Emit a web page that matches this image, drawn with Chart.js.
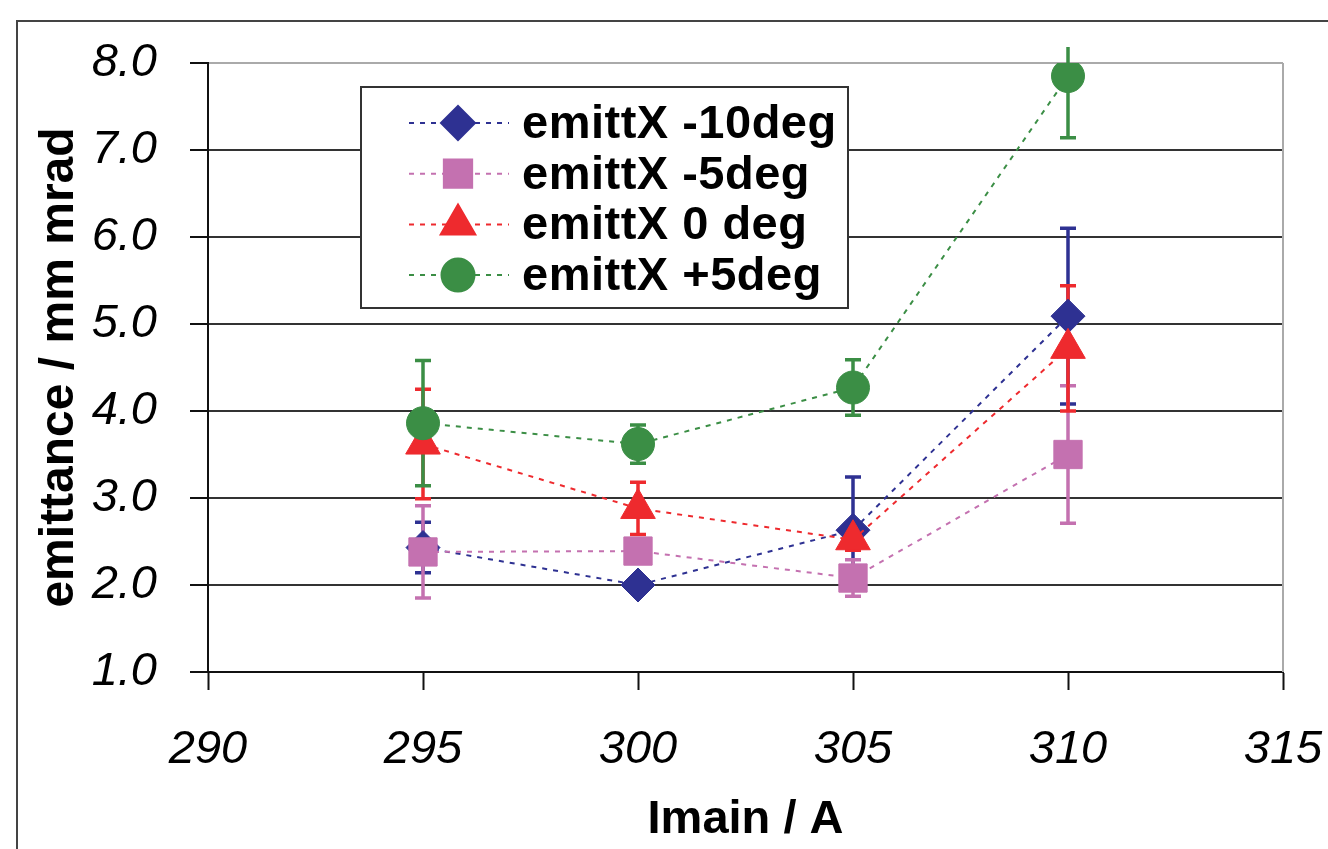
<!DOCTYPE html>
<html>
<head>
<meta charset="utf-8">
<script src="https://cdn.jsdelivr.net/npm/chart.js@4"></script>
<style>
  body { margin: 0; background: #fff; }
  #wrap { position: relative; width: 1328px; height: 849px; overflow: hidden; }
  #frame { position: absolute; left: 16px; top: 20px; width: 2000px; height: 2000px;
           border-left: 2px solid #444; border-top: 2px solid #444; }
  canvas { position: absolute; left: 0; top: 0; }
</style>
</head>
<body>
<div id="wrap">
  <div id="frame"></div>
  <canvas id="chart" width="1328" height="849"></canvas>
</div>
<script>
// Daten
const currents = [295, 300, 305, 310];
const seriesNames = ['emittX -10deg', 'emittX -5deg', 'emittX 0 deg', 'emittX +5deg'];

const emitMinus10 = [2.43, 2.00, 2.63, 5.09];
const emitMinus5  = [2.38, 2.39, 2.08, 3.50];
const emitZero    = [3.62, 2.88, 2.52, 4.72];
const emitPlus5   = [3.86, 3.62, 4.27, 7.85];

const errMinus10 = [0.29, 0.08, 0.61, 1.01];
const errMinus5  = [0.53, 0.10, 0.21, 0.79];
const errZero    = [0.63, 0.30, 0.12, 0.72];
const errPlus5   = [0.72, 0.22, 0.32, 0.71];

const xTicks = [290, 295, 300, 305, 310, 315];
const yTicks = [1, 2, 3, 4, 5, 6, 7, 8];

const FONT = "'Liberation Sans', Arial, sans-serif";

function makeSet(label, values, errors, color, style, radius, order) {
    return {
        label: label,
        data: currents.map((x, i) => ({ x: x, y: values[i] })),
        errors: errors,
        showLine: true,
        borderColor: color,
        backgroundColor: color,
        borderWidth: 2,
        borderDash: [5, 6],
        pointStyle: style,
        pointRadius: radius,
        pointHoverRadius: radius,
        pointBackgroundColor: color,
        pointBorderColor: color,
        pointBorderWidth: 1,
        order: order
    };
}

const datasets = [
    makeSet(seriesNames[0], emitMinus10, errMinus10, '#2E3192', 'rectRot', 17, 3),
    makeSet(seriesNames[1], emitMinus5, errMinus5, '#C471B0', 'rect', 20, 2),
    makeSet(seriesNames[2], emitZero, errZero, '#EE2A2E', 'triangle', 20, 1),
    makeSet(seriesNames[3], emitPlus5, errPlus5, '#3B8E45', 'circle', 16.5, 0)
];

// Fehlerbalken unter den Markern
const errorBars = {
    id: 'errorBars',
    beforeDatasetsDraw(chart) {
        const { ctx, chartArea, scales } = chart;
        ctx.save();
        ctx.beginPath();
        ctx.rect(chartArea.left, chartArea.top - 16, chartArea.width, chartArea.height + 16);
        ctx.clip();
        chart.data.datasets.forEach(ds => {
            ctx.strokeStyle = ds.borderColor;
            ctx.lineWidth = 3.5;
            ds.data.forEach((p, i) => {
                const e = ds.errors[i];
                const x = scales.x.getPixelForValue(p.x);
                const yTop = scales.y.getPixelForValue(p.y + e);
                const yBot = scales.y.getPixelForValue(p.y - e);
                ctx.beginPath();
                ctx.moveTo(x, yTop); ctx.lineTo(x, yBot);
                ctx.moveTo(x - 8, yTop); ctx.lineTo(x + 8, yTop);
                ctx.moveTo(x - 8, yBot); ctx.lineTo(x + 8, yBot);
                ctx.stroke();
            });
        });
        ctx.restore();
    }
};

// rechter Rand der Zeichenfläche
const plotBorder = {
    id: 'plotBorder',
    beforeDatasetsDraw(chart) {
        const { ctx, chartArea } = chart;
        ctx.save();
        ctx.strokeStyle = '#AAAAAA';
        ctx.lineWidth = 2;
        ctx.beginPath();
        ctx.moveTo(chartArea.right, chartArea.top);
        ctx.lineTo(chartArea.right, chartArea.bottom);
        ctx.stroke();
        ctx.restore();
    }
};

// Legende im Diagramm
const legendBox = {
    id: 'legendBox',
    afterDraw(chart) {
        const { ctx, chartArea } = chart;
        const x = chartArea.left + 153, y = chartArea.top + 24, w = 487, h = 221;
        ctx.save();
        ctx.fillStyle = '#fff';
        ctx.fillRect(x, y, w, h);
        ctx.strokeStyle = '#333';
        ctx.lineWidth = 2;
        ctx.strokeRect(x, y, w, h);
        chart.data.datasets.forEach((ds, i) => {
            const cy = y + 36 + i * 50.7;
            ctx.strokeStyle = ds.borderColor;
            ctx.lineWidth = 2;
            ctx.setLineDash(ds.borderDash);
            ctx.beginPath();
            ctx.moveTo(x + 48, cy);
            ctx.lineTo(x + 148, cy);
            ctx.stroke();
            ctx.setLineDash([]);
            ctx.fillStyle = ds.borderColor;
            Chart.helpers.drawPoint(ctx, { pointStyle: ds.pointStyle, radius: ds.pointRadius, borderWidth: 1, rotation: 0 }, x + 97, cy);
            ctx.fillStyle = '#000';
            ctx.font = 'bold 47px ' + FONT;
            ctx.letterSpacing = '0.5px';
            ctx.textBaseline = 'middle';
            ctx.textAlign = 'left';
            ctx.fillText(ds.label, x + 161, cy + 2);
        });
        ctx.restore();
    }
};

new Chart(document.getElementById('chart'), {
    type: 'scatter',
    data: { datasets: datasets },
    options: {
        responsive: false,
        animation: false,
        layout: { autoPadding: false, padding: { left: 17, right: 45, top: 63, bottom: 0 } },
        plugins: { legend: { display: false }, tooltip: { enabled: false } },
        scales: {
            x: {
                type: 'linear',
                min: 290,
                max: 315,
                afterBuildTicks: s => { s.ticks = xTicks.map(v => ({ value: v })); },
                afterFit: s => { s.height = 177; s.paddingLeft = 0; s.paddingRight = 0; },
                border: { color: '#111', width: 2 },
                grid: { drawOnChartArea: false, drawTicks: true, tickLength: 18, tickColor: '#111', tickWidth: 2 },
                ticks: { color: '#000', padding: 32, font: { family: FONT, size: 47, style: 'italic' } },
                title: {
                    display: true,
                    text: 'Imain / A',
                    color: '#000',
                    font: { family: FONT, size: 47, weight: 'bold' },
                    padding: { top: 0, bottom: 1 }
                }
            },
            y: {
                type: 'linear',
                min: 1,
                max: 8,
                afterBuildTicks: s => { s.ticks = yTicks.map(v => ({ value: v })); },
                afterFit: s => { s.width = 191; s.paddingTop = 0; s.paddingBottom = 0; },
                border: { color: '#111', width: 2 },
                grid: {
                    color: c => (c.tick && c.tick.value === 8 ? '#AAAAAA' : '#333333'),
                    lineWidth: 2,
                    drawTicks: true,
                    tickLength: 18,
                    tickColor: '#111',
                    tickWidth: 2
                },
                ticks: {
                    color: '#000',
                    padding: 33,
                    font: { family: FONT, size: 47, style: 'italic' },
                    callback: v => v.toFixed(1)
                },
                title: {
                    display: true,
                    text: 'emittance / mm mrad',
                    color: '#000',
                    font: { family: FONT, size: 48, weight: 'bold' },
                    padding: { top: 14, bottom: 0 }
                }
            }
        }
    },
    plugins: [plotBorder, errorBars, legendBox]
});
</script>
</body>
</html>
